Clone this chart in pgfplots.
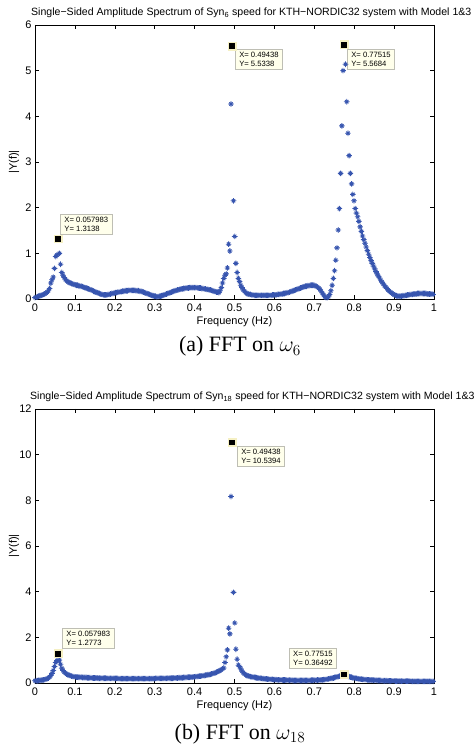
\RequirePackage{fix-cm}
\documentclass[border=0pt]{standalone}
\usepackage{fontspec}
\setmainfont{Liberation Sans}
\newfontfamily\capfont{Liberation Serif}
\usepackage{pgfplots}
\usepackage{pgfplotstable}
\pgfplotsset{compat=1.18}

\definecolor{mblue}{RGB}{55,85,175}
\definecolor{tipfill}{RGB}{255,255,235}
\definecolor{tipedge}{RGB}{190,190,180}
\definecolor{halo}{RGB}{245,240,195}

\pgfdeclareplotmark{mstar}{%
  \pgfpathmoveto{\pgfqpoint{-\pgfplotmarksize}{0pt}}\pgfpathlineto{\pgfqpoint{\pgfplotmarksize}{0pt}}%
  \pgfpathmoveto{\pgfqpoint{0pt}{-\pgfplotmarksize}}\pgfpathlineto{\pgfqpoint{0pt}{\pgfplotmarksize}}%
  \pgfpathmoveto{\pgfqpoint{-0.6\pgfplotmarksize}{-0.6\pgfplotmarksize}}\pgfpathlineto{\pgfqpoint{0.6\pgfplotmarksize}{0.6\pgfplotmarksize}}%
  \pgfpathmoveto{\pgfqpoint{-0.6\pgfplotmarksize}{0.6\pgfplotmarksize}}\pgfpathlineto{\pgfqpoint{0.6\pgfplotmarksize}{-0.6\pgfplotmarksize}}%
  \pgfusepathqstroke}

% amplitude spectrum, bins k = 0..327, df = 0.0030518 Hz
\pgfplotstableread[row sep=\\]{
y\\
0.03\\0.04\\0.05\\0.06\\0.07\\0.08\\0.09\\0.10\\0.11\\0.13\\
0.15\\0.18\\0.23\\0.35\\0.42\\0.48\\0.67\\0.93\\0.96\\
1.3138\\1.00\\0.76\\0.58\\0.52\\0.47\\
0.42\\0.40\\0.38\\0.36\\0.35\\0.34\\0.33\\0.32\\0.31\\
0.30\\0.30\\0.29\\0.28\\0.28\\0.27\\0.26\\0.25\\0.24\\0.23\\0.22\\0.21\\0.20\\0.19\\0.17\\0.16\\0.15\\0.14\\0.13\\0.12\\0.11\\0.10\\0.09\\
0.09\\0.09\\0.09\\0.10\\0.10\\0.11\\0.12\\0.12\\0.13\\0.14\\
0.14\\0.15\\0.15\\0.16\\0.16\\0.17\\0.17\\0.18\\0.18\\0.18\\0.19\\0.19\\0.19\\
0.19\\0.19\\0.19\\0.18\\0.18\\0.18\\0.17\\0.17\\0.16\\0.15\\0.14\\
0.13\\0.12\\0.11\\0.10\\0.09\\0.08\\0.07\\0.06\\0.06\\0.05\\0.05\\0.06\\0.06\\0.07\\0.08\\
0.09\\0.10\\0.11\\0.12\\0.13\\0.14\\0.15\\0.16\\0.17\\0.18\\0.19\\0.20\\0.20\\0.21\\0.22\\0.22\\0.23\\0.23\\0.24\\0.24\\0.24\\0.25\\0.25\\0.25\\0.25\\0.25\\
0.25\\0.25\\0.24\\0.24\\0.24\\0.23\\0.23\\0.22\\0.22\\0.21\\0.21\\0.20\\0.20\\0.19\\0.18\\0.17\\0.16\\0.15\\0.15\\
0.14\\0.18\\0.25\\0.35\\0.45\\0.52\\0.55\\0.68\\1.20\\1.05\\4.27\\5.5338\\2.15\\1.37\\0.78\\0.58\\0.45\\0.38\\0.30\\0.25\\0.20\\0.17\\0.14\\0.12\\0.11\\
0.10\\0.10\\0.09\\0.09\\0.08\\0.08\\0.08\\0.08\\0.08\\0.08\\0.08\\0.08\\0.08\\0.08\\0.08\\0.08\\0.08\\0.08\\0.08\\0.09\\0.09\\0.09\\0.09\\0.10\\0.10\\
0.10\\0.11\\0.11\\0.12\\0.12\\0.13\\0.14\\0.14\\0.15\\0.16\\0.17\\0.18\\0.19\\0.20\\0.21\\0.22\\0.23\\0.24\\0.25\\0.26\\0.27\\0.28\\0.28\\0.29\\0.29\\0.30\\0.30\\0.30\\0.30\\
0.29\\0.28\\0.26\\0.24\\0.21\\0.17\\0.13\\0.09\\0.05\\0.03\\0.03\\0.05\\0.10\\0.18\\
0.30\\0.45\\0.62\\0.85\\1.12\\1.51\\1.98\\2.75\\3.79\\5.00\\5.5684\\5.14\\4.32\\3.63\\3.14\\2.75\\2.52\\2.29\\2.15\\1.98\\1.88\\1.80\\
1.70\\1.58\\1.48\\1.38\\1.30\\1.22\\1.14\\1.06\\0.98\\0.91\\0.84\\0.78\\0.72\\0.66\\0.60\\0.55\\0.50\\0.46\\0.41\\0.37\\0.33\\0.29\\0.26\\0.23\\0.20\\0.17\\0.15\\0.13\\0.11\\0.09\\0.08\\0.07\\0.06\\0.06\\0.06\\
0.06\\0.07\\0.07\\0.08\\0.08\\0.09\\0.09\\0.10\\0.10\\0.10\\0.11\\0.11\\0.11\\0.12\\0.12\\0.12\\0.12\\0.12\\0.12\\0.12\\0.12\\0.11\\0.11\\0.11\\0.11\\0.11\\0.10\\
}\dataA

\pgfplotstableread[row sep=\\]{
y\\
0.10\\0.10\\0.10\\0.11\\0.11\\0.12\\0.13\\0.14\\0.15\\0.17\\
0.19\\0.22\\0.27\\0.33\\0.42\\0.55\\0.72\\0.90\\0.98\\
1.2773\\1.00\\0.82\\0.65\\0.55\\0.48\\
0.43\\0.39\\0.36\\0.34\\0.32\\0.30\\0.29\\0.28\\0.27\\
0.26\\0.26\\0.25\\0.25\\0.25\\0.24\\0.24\\0.24\\0.24\\0.23\\0.23\\0.23\\0.23\\0.22\\0.22\\0.22\\0.22\\0.22\\0.21\\0.21\\0.21\\0.21\\0.21\\
0.21\\0.21\\0.20\\0.20\\0.20\\0.20\\0.20\\0.20\\0.20\\0.20\\
0.20\\0.20\\0.19\\0.19\\0.19\\0.19\\0.19\\0.19\\0.19\\0.19\\0.19\\0.19\\0.19\\
0.19\\0.19\\0.19\\0.19\\0.19\\0.19\\0.19\\0.19\\0.19\\0.19\\0.19\\
0.19\\0.19\\0.19\\0.19\\0.19\\0.19\\0.19\\0.19\\0.20\\0.20\\0.20\\0.20\\0.20\\0.20\\0.20\\
0.20\\0.20\\0.20\\0.21\\0.21\\0.21\\0.21\\0.21\\0.22\\0.22\\0.22\\0.22\\0.23\\0.23\\0.23\\0.23\\0.24\\0.24\\0.24\\0.25\\0.25\\0.25\\0.26\\0.26\\0.27\\0.27\\
0.28\\0.28\\0.29\\0.30\\0.30\\0.31\\0.32\\0.33\\0.34\\0.35\\0.36\\0.37\\0.38\\0.40\\0.41\\0.43\\0.45\\0.47\\0.50\\
0.52\\0.55\\0.58\\0.62\\0.66\\0.90\\1.15\\1.45\\2.40\\2.15\\8.17\\10.5394\\3.97\\2.63\\1.48\\1.04\\0.78\\0.72\\0.62\\0.52\\0.45\\0.40\\0.36\\0.33\\0.31\\
0.29\\0.28\\0.27\\0.26\\0.25\\0.24\\0.23\\0.22\\0.21\\0.21\\0.20\\0.19\\0.19\\0.18\\0.18\\0.17\\0.17\\0.16\\0.16\\0.16\\0.15\\0.15\\0.15\\0.14\\0.14\\
0.14\\0.14\\0.13\\0.13\\0.13\\0.13\\0.12\\0.12\\0.12\\0.12\\0.12\\0.11\\0.11\\0.11\\0.11\\0.11\\0.11\\0.11\\0.11\\0.11\\0.11\\0.11\\0.11\\0.11\\0.11\\0.11\\0.12\\0.12\\0.12\\
0.12\\0.12\\0.13\\0.13\\0.13\\0.14\\0.14\\0.15\\0.15\\0.16\\0.17\\0.18\\0.19\\0.20\\
0.21\\0.22\\0.24\\0.25\\0.27\\0.28\\0.30\\0.31\\0.33\\0.34\\0.36492\\0.34\\0.32\\0.30\\0.28\\0.26\\0.25\\0.23\\0.22\\0.21\\0.20\\0.19\\
0.18\\0.17\\0.17\\0.16\\0.16\\0.15\\0.15\\0.14\\0.14\\0.13\\0.13\\0.13\\0.12\\0.12\\0.12\\0.11\\0.11\\0.11\\0.11\\0.10\\0.10\\0.10\\0.10\\0.10\\0.09\\0.09\\0.09\\0.09\\0.09\\0.09\\0.08\\0.08\\0.08\\0.08\\0.08\\
0.08\\0.08\\0.08\\0.08\\0.08\\0.08\\0.08\\0.08\\0.07\\0.07\\0.07\\0.07\\0.07\\0.07\\0.07\\0.07\\0.07\\0.07\\0.07\\0.07\\0.07\\0.07\\0.07\\0.07\\0.07\\0.07\\0.07\\
}\dataB

\tikzset{
  dtip/.style={draw=tipedge, fill=tipfill, line width=0.6bp, align=left,
    font=\fontsize{7.7}{9}\selectfont, inner xsep=4bp, inner ysep=3bp},
}
\pgfplotsset{
  mat/.style={
    scale only axis, width=399bp, height=274bp,
    xmin=0, xmax=1, ymin=0,
    xtick={0,0.1,0.2,0.3,0.4,0.5,0.6,0.7,0.8,0.9,1},
    xticklabels={0,0.1,0.2,0.3,0.4,0.5,0.6,0.7,0.8,0.9,1},
    tick align=inside, major tick length=4bp,
    axis line style={line width=0.8bp},
    every tick/.style={black, line width=0.6bp},
    tick label style={font=\fontsize{11}{13}\selectfont},
    xticklabel style={yshift=-1.3bp},
    /pgf/number format/assume math mode=true,
    xlabel={Frequency (Hz)}, ylabel={|Y(f)|},
    label style={font=\fontsize{11}{13}\selectfont},
    xlabel style={at={(axis description cs:0.5,-0.0825)}, anchor=center},
    ylabel style={at={(axis description cs:-0.0526,0.5)}, anchor=center},
    clip=false,
  },
  dat/.style={only marks, mark=mstar, mark size=2.8bp, color=mblue, line width=0.85bp},
  tipmark/.style={only marks, mark=square*, mark size=3.6bp,
    mark options={fill=black, draw=halo, line width=1.6bp}},
}

\begin{document}
\begin{tikzpicture}
\begin{axis}[mat, at={(35bp,448bp)}, anchor=south west, ymax=6, ytick={0,1,2,3,4,5,6}]
\addplot[dat] table[x expr=\coordindex*0.0030518, y=y] {\dataA};
\addplot[tipmark] coordinates {(0.057983,1.3138) (0.49438,5.5338) (0.77515,5.5684)};
\node[dtip, anchor=south west, xshift=2bp, yshift=4bp] at (axis cs:0.057983,1.3138) {X= 0.057983\\Y= 1.3138};
\node[dtip, anchor=north west, xshift=2.7bp, yshift=-2.7bp] at (axis cs:0.49438,5.5338) {X= 0.49438\\Y= 5.5338};
\node[dtip, anchor=north west, xshift=2.7bp, yshift=-4.3bp] at (axis cs:0.77515,5.5684) {X= 0.77515\\Y= 5.5684};
\end{axis}

\begin{axis}[mat, at={(35bp,64bp)}, anchor=south west, ymax=12, ytick={0,2,4,6,8,10,12}]
\addplot[dat] table[x expr=\coordindex*0.0030518, y=y] {\dataB};
\addplot[tipmark] coordinates {(0.057983,1.2773) (0.49438,10.5394) (0.77515,0.36492)};
\node[dtip, anchor=south west, xshift=4bp, yshift=4.8bp] at (axis cs:0.057983,1.2773) {X= 0.057983\\Y= 1.2773};
\node[dtip, anchor=north west, xshift=4.7bp, yshift=-3.6bp] at (axis cs:0.49438,10.5394) {X= 0.49438\\Y= 10.5394};
\node[dtip, anchor=south east, xshift=-7.3bp, yshift=5.7bp] at (axis cs:0.77515,0.36492) {X= 0.77515\\Y= 0.36492};
\end{axis}

\node[anchor=base west, inner sep=0, font=\fontsize{10.6}{13}\selectfont] at (31bp,731.5bp)
  {Single−Sided Amplitude Spectrum of Syn\textsubscript{6} speed for KTH−NORDIC32 system with Model 1\&3};
\node[anchor=base west, inner sep=0, font=\fontsize{10.6}{13}\selectfont] at (30bp,347.5bp)
  {Single−Sided Amplitude Spectrum of Syn\textsubscript{18} speed for KTH−NORDIC32 system with Model 1\&3};

\node[anchor=base, inner sep=0, font=\capfont\fontsize{22}{26}\selectfont] at (240bp,395bp) {(a) FFT on $\omega_{6}$};
\node[anchor=base, inner sep=0, font=\capfont\fontsize{22}{26}\selectfont] at (240bp,7.5bp) {(b) FFT on $\omega_{18}$};

\pgfresetboundingbox
\path[use as bounding box] (0,0) rectangle (474bp,747bp);
\end{tikzpicture}
\end{document}
